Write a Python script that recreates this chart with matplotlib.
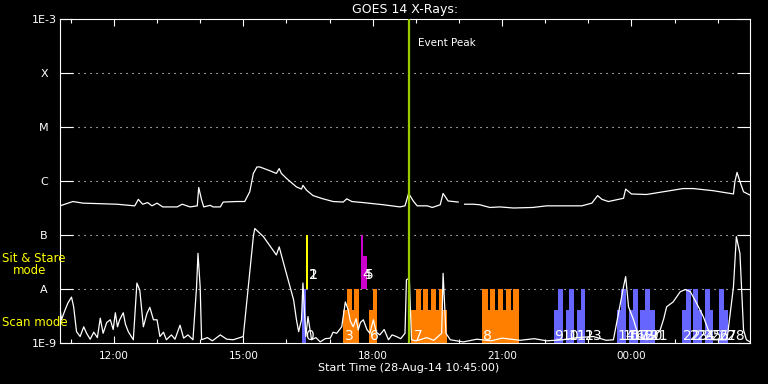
"""GOES 14 X-ray flux with observation blocks."""
import matplotlib
matplotlib.use("Agg")
import matplotlib.dates as mdates
import matplotlib.pyplot as plt
import numpy as np
import pandas as pd

start = pd.Timestamp("2014-08-28 10:45:00")
span_hours = 16
peak_min = 485  # event peak, minutes after start

# 1-8 A channel: minutes after start, log10 flux (W/m^2)
long_min = [0, 18, 32, 79, 104, 109, 115, 122, 128, 135,
            143, 163, 170, 181, 191, 193, 197, 200, 209, 213,
            223, 227, 246, 257, 264, 269, 274, 278, 292, 301,
            305, 308, 315, 329, 336, 338, 343, 352, 366, 380,
            394, 399, 406, 422, 450, 473, 480, 485, 492, 497,
            511, 518, 529, 533, 540, 554, 558, 563, 575, 584,
            598, 612, 631, 658, 677, 726, 740, 748, 754, 763,
            784, 787, 795, 816, 839, 867, 881, 909, 937, 939,
            942, 946, 951, 960]
long_log = [-6.46, -6.38, -6.41, -6.43, -6.46, -6.34, -6.43, -6.40, -6.46, -6.41,
            -6.48, -6.48, -6.43, -6.48, -6.46, -6.12, -6.35, -6.48, -6.45, -6.48,
            -6.48, -6.39, -6.38, -6.38, -6.20, -5.86, -5.74, -5.74, -5.81, -5.86,
            -5.77, -5.86, -5.95, -6.11, -6.15, -6.08, -6.17, -6.27, -6.33, -6.38,
            -6.39, -6.33, -6.38, -6.40, -6.44, -6.48, -6.46, -6.23, -6.38, -6.46,
            -6.46, -6.49, -6.44, -6.23, -6.37, -6.39, np.nan, -6.43, -6.43, -6.44,
            -6.49, -6.48, -6.50, -6.49, -6.46, -6.46, -6.41, -6.27, -6.34, -6.38,
            -6.32, -6.15, -6.24, -6.25, -6.20, -6.14, -6.14, -6.18, -6.24, -6.01,
            -5.84, -6.01, -6.20, -6.26]

# 0.5-4 A channel
short_min = [0, 2, 7, 11, 16, 19, 23, 28, 33, 37,
             42, 47, 52, 56, 60, 65, 70, 74, 77, 80,
             83, 88, 91, 95, 102, 107, 111, 116, 121, 125,
             130, 135, 139, 144, 148, 155, 160, 167, 172, 178,
             185, 190, 192, 195, 197, 205, 212, 223, 232, 241,
             255, 262, 269, 271, 283, 301, 305, 311, 320, 325,
             329, 332, 336, 338, 342, 345, 350, 356, 362, 369,
             376, 380, 385, 392, 397, 401, 404, 408, 412, 415,
             418, 422, 427, 431, 436, 440, 445, 451, 457, 462,
             468, 474, 480, 482, 486, 489, 495, 501, 510, 520,
             531, 533, 537, 543, 561, 580, 600, 615, 640, 660,
             677, 700, 720, 742, 760, 770, 784, 787, 791, 798,
             805, 816, 826, 835, 840, 844, 853, 863, 870, 877,
             886, 895, 902, 909, 928, 937, 941, 946, 951, 955,
             960]
short_log = [-8.35, -8.57, -8.39, -8.26, -8.15, -8.33, -8.79, -8.88, -8.70, -8.82,
             -8.93, -8.80, -8.90, -8.54, -8.82, -8.62, -8.57, -8.75, -8.44, -8.70,
             -8.57, -8.44, -8.65, -8.79, -8.94, -7.89, -8.02, -8.70, -8.45, -8.34,
             -8.57, -8.57, -8.88, -8.80, -8.94, -8.85, -8.93, -8.67, -8.91, -8.85,
             -8.94, -7.96, -7.34, -7.96, -8.94, -8.90, -8.96, -8.85, -8.93, -8.94,
             -8.88, -7.96, -7.03, -6.88, -7.03, -7.37, -7.22, -7.52, -7.96, -8.20,
             -8.57, -8.79, -8.57, -7.89, -8.88, -8.51, -8.94, -8.90, -8.98, -8.92,
             -8.91, -8.80, -8.82, -8.70, -8.24, -8.39, -8.60, -8.70, -8.55, -8.76,
             -8.62, -8.57, -8.75, -8.82, -8.57, -8.80, -8.85, -8.75, -8.94, -8.85,
             -8.88, -8.92, -8.82, -7.83, -7.80, -8.94, -8.96, -8.94, -8.90, -8.95,
             -8.82, -7.71, -8.82, -8.94, -8.98, -8.93, -8.96, -8.91, -8.95, -8.92,
             -8.96, -8.94, -8.90, -8.88, -8.95, -8.94, -7.96, -7.77, -8.33, -8.57,
             -8.88, -8.94, -8.90, -8.76, -8.55, -8.33, -8.24, -8.05, -8.01, -8.05,
             -8.27, -8.51, -8.76, -8.94, -8.94, -7.96, -7.03, -7.34, -8.76, -8.94,
             -8.98]

# scan mode observations (minutes after start), tall = full height
scan_start = [337, 394, 399, 406, 409, 430, 435, 489, 495, 505, 516, 527,
              587, 587, 598, 609, 620, 630, 687, 693, 704, 708, 719, 725,
              775, 781, 792, 797, 807, 814, 821, 865, 871, 881, 888, 897, 904, 917, 924]
scan_end = [342, 399, 406, 409, 416, 435, 441, 539, 502, 512, 523, 533,
            638, 595, 605, 616, 627, 638, 693, 700, 708, 715, 725, 730,
            781, 787, 797, 804, 814, 821, 828, 871, 878, 888, 893, 904, 909, 924, 929]
scan_tall = [1, 0, 1, 0, 1, 0, 1, 0, 1, 1, 1, 1,
             0, 1, 1, 1, 1, 1, 0, 1, 0, 1, 0, 1,
             0, 1, 0, 1, 0, 1, 0, 0, 1, 1, 0, 1, 0, 1, 0]
scan_color = ["#6666ff"] + ["#ff8000"] * 17 + ["#6666ff"] * 21

# sit & stare observations
sns_start = [342, 419, 422]
sns_end = [345, 422, 427]
sns_tall = [1, 1, 0]
sns_color = ["#ffff00", "#cc00cc", "#cc00cc"]

# observation numbers
obs_num = list(range(29))
obs_min = [341, 345, 346, 397, 420, 424, 431, 492, 589, 687, 698, 708, 719, 729,
           775, 782, 789, 795, 802, 809, 814, 821, 867, 877, 886, 896, 906, 917, 928]
obs_sns = [0, 1, 1, 0, 1, 1, 0, 0, 0, 0, 0, 0, 0, 0,
           0, 0, 0, 0, 0, 0, 0, 0, 0, 0, 0, 0, 0, 0, 0]

ytick_vals = [1e-9, 1e-8, 1e-7, 1e-6, 1e-5, 1e-4, 1e-3]
ytick_labels = ["1E-9", "A", "B", "C", "M", "X", "1E-3"]


def tnum(minutes):
    m = pd.to_timedelta(np.asarray(minutes, dtype=float), unit="min")
    return mdates.date2num((start + m).to_numpy())


W, H = 768, 384
fig = plt.figure(figsize=(W / 100, H / 100), dpi=100, facecolor="black")
ax = fig.add_axes([60 / W, 41 / H, 690 / W, 324 / H], facecolor="black")

# observation bars
lo_short = 10 ** -8.39
x0 = tnum(scan_start)
x1 = tnum(scan_end)
for a, b, tall, c in zip(x0, x1, scan_tall, scan_color):
    top = 1e-8 if tall else lo_short
    ax.bar(a, top - 1e-9, width=b - a, bottom=1e-9, align="edge", color=c, linewidth=0, zorder=2)
x0 = tnum(sns_start)
x1 = tnum(sns_end)
for a, b, tall, c in zip(x0, x1, sns_tall, sns_color):
    top = 1e-7 if tall else 10 ** -7.39
    ax.bar(a, top - 1e-8, width=b - a, bottom=1e-8, align="edge", color=c, linewidth=0, zorder=2)

# dotted levels
for lev in ytick_vals[1:-1]:
    ax.axhline(lev, color="white", lw=0.8, ls=(0, (1, 4.4)), zorder=1)

ax.plot(tnum(long_min), 10 ** np.array(long_log), color="white", lw=0.9, zorder=3)
ax.plot(tnum(short_min), 10 ** np.array(short_log), color="white", lw=0.9, zorder=3)

ax.axvline(tnum([peak_min])[0], color="#99cc00", lw=1.6, zorder=4)
ax.text(tnum([peak_min + 13])[0], 10 ** -3.45, "Event Peak", color="white",
        fontsize=7.5, va="center", ha="left")

for n, m, s in zip(obs_num, obs_min, obs_sns):
    yv = 10 ** -7.81 if s else 10 ** -8.95
    ax.text(tnum([m])[0], yv, str(n), color="white", fontsize=10,
            va="baseline", ha="left", zorder=5)

ax.set_yscale("log")
ax.set_ylim(1e-9, 1e-3)
ax.set_xlim(tnum([0])[0], tnum([span_hours * 60])[0])
ax.set_yticks(ytick_vals)
ax.set_yticklabels(ytick_labels)
ax.yaxis.set_minor_locator(matplotlib.ticker.NullLocator())
ax.xaxis.set_major_locator(mdates.HourLocator(byhour=range(0, 24, 3)))
ax.xaxis.set_minor_locator(mdates.HourLocator())
ax.xaxis.set_major_formatter(mdates.DateFormatter("%H:%M"))

ax.tick_params(axis="x", which="major", direction="in", length=5, width=0.8,
               colors="white", top=True, labelsize=7.5, pad=6)
ax.tick_params(axis="x", which="minor", direction="in", length=3, width=0.8,
               colors="white", top=True)
ax.tick_params(axis="y", which="major", direction="in", length=9.4, width=0.8,
               colors="white", right=True, labelsize=8, pad=11.5)
for lab in ax.get_yticklabels():
    lab.set_horizontalalignment("center")
for sp in ax.spines.values():
    sp.set_color("white")
    sp.set_linewidth(0.8)

fig.text(405 / W, 1 - 10 / H, "GOES 14 X-Rays:", color="white", fontsize=9,
         ha="center", va="center")
fig.text(409 / W, 1 - 368 / H, "Start Time (28-Aug-14 10:45:00)", color="white",
         fontsize=8, ha="center", va="center")
fig.text(2 / W, 1 - 259 / H, "Sit & Stare", color="#ffff00", fontsize=8.5,
         ha="left", va="center")
fig.text(13 / W, 1 - 271 / H, "mode", color="#ffff00", fontsize=8.5,
         ha="left", va="center")
fig.text(2 / W, 1 - 323 / H, "Scan mode", color="#ffff00", fontsize=8.5,
         ha="left", va="center")

fig.savefig("out.png", dpi=100, facecolor="black")
